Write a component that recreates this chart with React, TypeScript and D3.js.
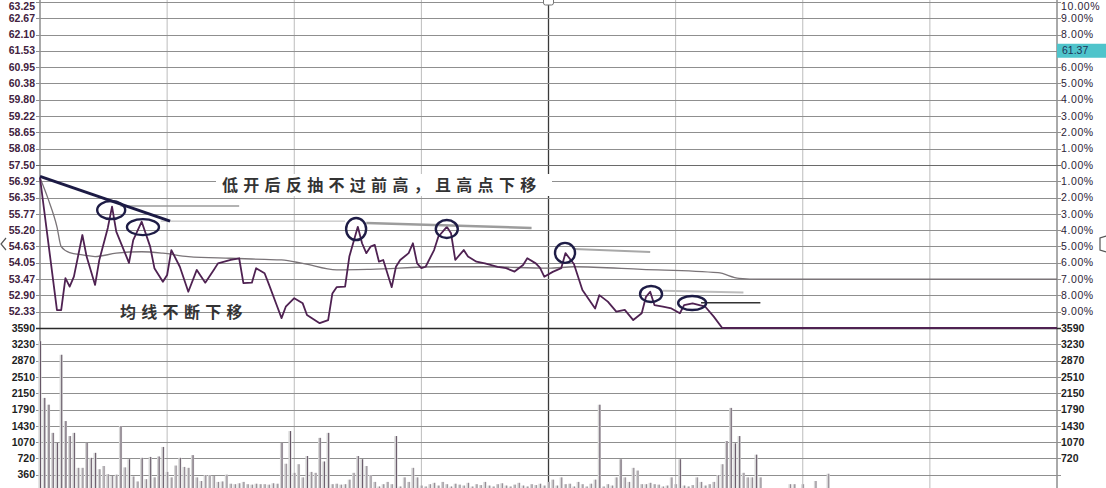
import React, { useEffect, useRef } from "react";
import * as d3 from "d3";

// left price axis rows, top to bottom (last row = limit down, labelled by volume)
const priceRows = [
  63.25, 62.67, 62.1, 61.53, 60.95, 60.38, 59.8, 59.22, 58.65, 58.08, 57.5,
  56.92, 56.35, 55.77, 55.2, 54.63, 54.05, 53.47, 52.9, 52.33, 51.75,
];
const pctLabels = [
  "10.00%", "9.00%", "8.00%", "", "6.00%", "5.00%", "4.00%", "3.00%", "2.00%", "1.00%",
  "0.00%", "1.00%", "2.00%", "3.00%", "4.00%", "5.00%", "6.00%", "7.00%", "8.00%", "9.00%",
];
const volTicks = [3590, 3230, 2870, 2510, 2150, 1790, 1430, 1070, 720, 360];
const rightVolTicks = [3590, 3230, 2870, 2510, 2150, 1790, 1430, 1070, 720];
const lastPrice = "61.37";

// minute-by-minute price (minute index, price)
const priceMinutes = [
  0, 4, 5, 6, 7, 8, 10, 11, 13, 14, 16, 17, 18, 21, 22, 24, 26, 27, 29, 30, 31, 33, 35, 37, 39,
  41, 42, 45, 47, 48, 50, 51, 53, 54, 56, 57, 58, 60, 62, 63, 66, 68, 69, 70, 72, 73, 75, 76, 77,
  78, 79, 80, 81, 83, 84, 85, 87, 88, 89, 90, 91, 93, 94, 96, 97, 98, 100, 101, 103, 105, 108,
  110, 112, 114, 115, 117, 118, 119, 121, 123, 124, 126, 128, 131, 132, 134, 136, 138, 140, 142,
  143, 144, 145, 147, 149, 151, 152, 154, 157, 159, 161, 240,
];
const priceValues = [
  57.05, 52.38, 52.38, 53.51, 53.21, 53.56, 55.03, 54.27, 53.27, 54.15, 55.28, 56.03, 55.15,
  54.05, 54.85, 55.5, 54.62, 53.86, 53.38, 53.62, 54.5, 53.91, 53.03, 53.8, 53.35, 53.8, 54.03,
  54.15, 54.21, 53.33, 53.35, 53.86, 53.68, 53.3, 52.5, 52.1, 52.5, 52.8, 52.62, 52.21, 51.92,
  52.03, 52.97, 53.19, 53.21, 54.27, 55.32, 54.74, 54.39, 54.62, 54.68, 54.09, 54.15, 53.19,
  53.91, 54.15, 54.39, 54.74, 54.03, 53.86, 53.91, 54.5, 54.97, 55.32, 55.09, 54.15, 54.5, 54.27,
  54.09, 54.03, 53.91, 53.86, 53.74, 53.97, 54.21, 54.03, 53.87, 53.56, 53.73, 53.86, 54.39,
  54.01, 53.09, 52.44, 52.91, 52.68, 52.33, 52.39, 52.03, 52.27, 52.85, 53.03, 52.56, 52.5,
  52.44, 52.27, 52.56, 52.62, 52.5, 52.15, 51.75, 51.75,
];

// average price line
const avgMinutes = [0, 2, 4, 5, 7, 10, 13, 18, 24, 29, 35, 45, 53, 57, 62, 70, 78, 94, 105, 120, 126, 142, 160, 165, 170, 240];
const avgValues = [
  57.05, 56.27, 55.32, 54.62, 54.41, 54.33, 54.27, 54.39, 54.44, 54.39, 54.27, 54.21, 54.17,
  54.15, 54.03, 53.8, 53.82, 53.91, 53.91, 53.86, 53.91, 53.82, 53.7, 53.5, 53.47, 53.47,
];

// volume per minute
const volumes = [
  3300, 2050, 1900, 1280, 1060, 3000, 1540, 1210, 1280, 510, 510, 1060, 730, 840, 480, 550, 370,
  330, 360, 1430, 520, 700, 320, 210, 730, 260, 750, 300, 760, 970, 420, 300, 560, 730, 530, 510,
  790, 300, 220, 350, 350, 330, 200, 210, 360, 160, 150, 170, 200, 150, 140, 160, 150, 150, 140,
  170, 160, 1060, 600, 1320, 400, 590, 300, 770, 420, 400, 1170, 650, 1280, 150, 160, 140, 150,
  250, 400, 770, 700, 550, 350, 200, 100, 150, 200, 150, 1210, 100, 300, 200, 510, 300, 120, 100,
  150, 180, 120, 200, 150, 100, 160, 140, 120, 180, 100, 150, 130, 200, 120, 100, 150, 170, 120,
  100, 140, 180, 120, 100, 150, 130, 160, 120, 200, 250, 120, 300, 150, 160, 100, 200, 150, 100,
  160, 250, 1900, 100, 150, 120, 300, 700, 300, 200, 510, 450, 150, 150, 180, 150, 140, 100, 120,
  300, 150, 700, 120, 100, 130, 300, 200, 120, 150, 200, 350, 590, 1100, 1830, 1050, 1210, 400,
  300, 300, 800, 300, 0, 0, 0, 0, 0, 0, 150, 150, 0, 150, 0, 0, 220, 0, 0, 380,
];

// annotation: circled highs (minute, price)
const circleMinutes = [16.8, 24.3, 74.6, 96, 123.9, 144.2, 153.9];
const circlePrices = [55.91, 55.31, 55.24, 55.24, 54.4, 52.95, 52.63];
const circleRx = [14, 16, 10, 11, 10, 11, 14];
const circleRy = [9, 8, 11, 9, 10, 8, 7];

// annotation: high reference lines [fromMinute, toMinute, fromPrice, toPrice]
const refLines = [
  [19, 47, 56.05, 56.05],
  [28.5, 72, 55.52, 55.52],
  [77, 116, 55.45, 55.28],
  [126, 144, 54.54, 54.43],
  [147, 166, 53.06, 53.0],
  [156, 170, 52.64, 52.64],
];
const refColors = ["#9a9a9a", "#b4b4b4", "#9c9c9c", "#a8a8a8", "#bdbdbd", "#333"];
const refWidths = [1.5, 1, 2.5, 2, 2, 1.5];
const trendFrom = [0, 57.1];
const trendTo = [30.7, 55.52];

const note1 = "低开后反抽不过前高，且高点下移";
const note2 = "均线不断下移";

const W = 1106;
const H = 488;

export default function App() {
  const ref = useRef<SVGSVGElement | null>(null);

  useEffect(() => {
    if (!ref.current) return;
    const svg = d3.select(ref.current);
    svg.selectAll("*").remove();

    const left = 40;
    const right = 1057;
    const x = d3.scaleLinear().domain([0, 240]).range([left, right]);
    const yP = d3.scaleLinear().domain([51.75, 63.25]).range([328, 2]);
    const yV = d3.scaleLinear().domain([0, 3590]).range([491, 328]);
    // keep the top row's label inside the picture
    const labelY = (y: number) => Math.max(y, 6);

    svg.append("rect").attr("width", W).attr("height", H).attr("fill", "#fff");

    // vertical grid
    const vg = svg.append("g");
    d3.range(0, 241, 30).forEach((m) => {
      vg.append("line")
        .attr("x1", x(m)).attr("x2", x(m))
        .attr("y1", 0).attr("y2", H)
        .attr("stroke", m === 120 ? "#3a3a3a" : m === 0 || m === 240 ? "#555" : "#bcbcbc")
        .attr("stroke-width", m === 120 ? 1.3 : 1);
    });

    // horizontal grid, price part
    const hg = svg.append("g");
    priceRows.forEach((p, i) => {
      const y = Math.round(yP(p)) + 0.5;
      hg.append("line")
        .attr("x1", left - 4).attr("x2", right + 4)
        .attr("y1", y).attr("y2", y)
        .attr("stroke", i === 20 ? "#2a2a2a" : i === 10 ? "#6a6a6a" : "#8f8f8f")
        .attr("stroke-width", i === 20 ? 1.6 : 1);
    });
    volTicks.slice(1).forEach((v) => {
      const y = Math.round(yV(v)) + 0.5;
      hg.append("line")
        .attr("x1", left - 4).attr("x2", right + 4)
        .attr("y1", y).attr("y2", y)
        .attr("stroke", "#8f8f8f");
    });

    // left labels
    const lab = svg.append("g")
      .attr("font-family", "Liberation Sans, Arial, sans-serif")
      .attr("font-weight", "bold")
      .attr("font-size", 10.5);
    priceRows.slice(0, 20).forEach((p) => {
      lab.append("text")
        .attr("x", 35).attr("y", labelY(yP(p))).attr("dy", "0.35em")
        .attr("text-anchor", "end").attr("fill", "#42223e")
        .text(p.toFixed(2));
    });
    volTicks.forEach((v) => {
      lab.append("text")
        .attr("x", 35).attr("y", yV(v)).attr("dy", "0.35em")
        .attr("text-anchor", "end").attr("fill", "#1e1e1e")
        .text(v);
    });

    // right labels
    pctLabels.forEach((t, i) => {
      if (!t) return;
      lab.append("text")
        .attr("x", 1061).attr("y", labelY(yP(priceRows[i]))).attr("dy", "0.35em")
        .attr("fill", "#2c2236").attr("font-weight", "normal")
        .attr("letter-spacing", 0.6)
        .text(t);
    });
    rightVolTicks.forEach((v) => {
      lab.append("text")
        .attr("x", 1061).attr("y", yV(v)).attr("dy", "0.35em")
        .attr("fill", "#1e1e1e")
        .text(v);
    });
    const yBox = yP(priceRows[3]);
    svg.append("rect")
      .attr("x", right).attr("y", yBox - 7).attr("width", W - right).attr("height", 14)
      .attr("fill", "#4fc4cb");
    svg.append("text")
      .attr("x", 1062).attr("y", yBox).attr("dy", "0.35em")
      .attr("font-family", "Liberation Sans, Arial, sans-serif")
      .attr("font-size", 10.5).attr("fill", "#1d3358")
      .text(lastPrice);

    // volume bars
    const vb = svg.append("g");
    volumes.forEach((v, i) => {
      if (!v) return;
      vb.append("rect")
        .attr("x", x(i) - 1.6).attr("y", yV(v))
        .attr("width", 3.2).attr("height", yV(0) - yV(v))
        .attr("fill", "#d6d6d6");
      vb.append("line")
        .attr("x1", x(i) + 0.5).attr("x2", x(i) + 0.5)
        .attr("y1", yV(v)).attr("y2", H)
        .attr("stroke", "#5b4a5c").attr("stroke-width", 1)
        .attr("opacity", v > 600 ? 0.9 : 0.55);
    });

    // average line
    const avg = avgMinutes.map((m, i) => [m, avgValues[i]] as [number, number]);
    const line = d3.line<[number, number]>()
      .x((d) => x(d[0]))
      .y((d) => yP(d[1]))
      .curve(d3.curveMonotoneX);
    svg.append("path").attr("d", line(avg)).attr("fill", "none")
      .attr("stroke", "#7a7478").attr("stroke-width", 1.3);

    // price line
    const price = priceMinutes.map((m, i) => [m, priceValues[i]] as [number, number]);
    const pline = d3.line<[number, number]>().x((d) => x(d[0])).y((d) => yP(d[1]));
    svg.append("path").attr("d", pline(price)).attr("fill", "none")
      .attr("stroke", "#4f2252").attr("stroke-width", 1.8)
      .attr("stroke-linejoin", "round");

    // annotations
    const an = svg.append("g");
    refLines.forEach((r, i) => {
      an.append("line")
        .attr("x1", x(r[0])).attr("x2", x(r[1]))
        .attr("y1", yP(r[2])).attr("y2", yP(r[3]))
        .attr("stroke", refColors[i]).attr("stroke-width", refWidths[i]);
    });
    an.append("line")
      .attr("x1", x(trendFrom[0])).attr("y1", yP(trendFrom[1]))
      .attr("x2", x(trendTo[0])).attr("y2", yP(trendTo[1]))
      .attr("stroke", "#1c1a44").attr("stroke-width", 3);
    circleMinutes.forEach((m, i) => {
      an.append("ellipse")
        .attr("cx", x(m)).attr("cy", yP(circlePrices[i]))
        .attr("rx", circleRx[i]).attr("ry", circleRy[i])
        .attr("fill", "none").attr("stroke", "#1e1c46").attr("stroke-width", 2.4);
    });

    // notes
    const n1 = svg.append("g");
    n1.append("rect").attr("x", 216).attr("y", 174).attr("width", 336).attr("height", 22).attr("fill", "#fff");
    n1.append("text")
      .attr("x", 222).attr("y", 185).attr("dy", "0.35em")
      .attr("font-family", "Noto Sans CJK SC, sans-serif")
      .attr("font-size", 16).attr("font-weight", "bold").attr("letter-spacing", 5.3)
      .attr("fill", "#333")
      .text(note1);
    svg.append("text")
      .attr("x", 120).attr("y", 312).attr("dy", "0.35em")
      .attr("font-family", "Noto Sans CJK SC, sans-serif")
      .attr("font-size", 16).attr("font-weight", "bold").attr("letter-spacing", 5.3)
      .attr("fill", "#333")
      .text(note2);

    // cursor markers
    svg.append("rect").attr("x", x(120) - 5).attr("y", -3).attr("width", 10).attr("height", 8)
      .attr("fill", "#fff").attr("stroke", "#777").attr("rx", 2);
    svg.append("path").attr("d", "M6,238 L1,244 L6,250").attr("fill", "none").attr("stroke", "#555").attr("stroke-width", 1.2);
    svg.append("path").attr("d", "M1106,236 L1100,238 L1100,250 L1106,252").attr("fill", "none").attr("stroke", "#555").attr("stroke-width", 1.2);
  }, []);

  return (
    <svg
      ref={ref}
      width={W}
      height={H}
      style={{ position: "absolute", left: 0, top: 0, display: "block" }}
    />
  );
}
